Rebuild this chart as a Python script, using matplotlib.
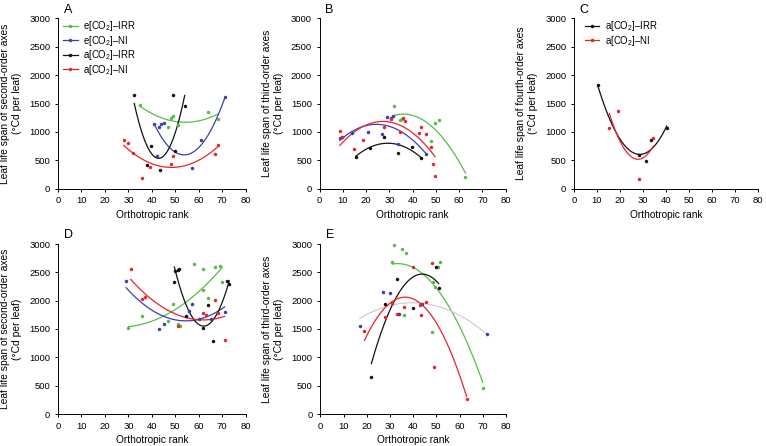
import numpy as np
import matplotlib
matplotlib.use('Agg')
import matplotlib.pyplot as plt
from matplotlib.lines import Line2D

plt.rcParams['font.family'] = ['Liberation Sans', 'DejaVu Sans']
plt.rcParams['mathtext.fontset'] = 'custom'
plt.rcParams['mathtext.rm'] = 'Liberation Sans'
plt.rcParams['mathtext.it'] = 'Liberation Sans:italic'

# ---------------- data ----------------
# Panel A (second-order axes, top)
a_eirr_x = [35, 47, 48, 49, 51, 64, 68]
a_eirr_y = [1470, 1080, 1240, 1285, 1120, 1355, 1230]
a_eni_x = [41, 42, 43, 44, 45, 57, 61, 71]
a_eni_y = [1135, 580, 1085, 1140, 1150, 360, 865, 1615]
a_airr_x = [32.5, 38, 39.5, 43.5, 49, 50, 54]
a_airr_y = [1650, 417, 752, 329, 1650, 664, 1461]
a_ani_x = [28, 30, 32, 36, 39, 48, 49, 67, 68]
a_ani_y = [857, 799, 623, 188, 382, 440, 570, 611, 769]

# Panel B (third-order axes, top)
b_eirr_x = [32, 34.5, 35.5, 47.7, 49.6, 51.5, 62.7]
b_eirr_y = [1456, 1210, 1230, 840, 1150, 1215, 211]
b_eni_x = [8.7, 9.5, 13.8, 20.6, 26.7, 28.8, 30.7, 31.7, 33.8, 45.7]
b_eni_y = [887, 905, 975, 1004, 963, 1257, 1250, 1280, 782, 605]
b_airr_x = [15.6, 21.6, 27.8, 33.8, 39.7, 43.7]
b_airr_y = [564, 711, 916, 623, 739, 535]
b_ani_x = [8.7, 9.7, 14.9, 18.8, 27.7, 30.7, 34.5, 35.7, 36.7, 42.6, 43.6, 45.7, 47.7, 48.6, 49.6]
b_ani_y = [1021, 905, 694, 857, 1081, 1227, 1004, 1250, 1192, 986, 1092, 957, 739, 430, 229]

# Panel C (fourth-order axes)
c_airr_x = [10.3, 28.3, 31.5, 33.4, 40.4]
c_airr_y = [1826, 599, 488, 863, 1074]
c_ani_x = [15.4, 19.3, 28.4, 34.4]
c_ani_y = [1063, 1368, 165, 887]

# Panel D (second-order axes, bottom)
d_eirr_x = [30, 36, 47, 49, 51, 52, 58, 62, 62, 64, 67, 69, 70]
d_eirr_y = [1520, 1730, 1645, 1945, 1590, 1560, 2640, 2560, 2180, 2040, 2590, 2605, 2330]
d_eni_x = [29, 43, 45, 56, 57, 60, 65, 71]
d_eni_y = [2350, 1495, 1585, 1810, 1935, 1670, 1670, 1800]
d_airr_x = [49.6, 50, 51, 51.5, 54.5, 62, 64, 66, 72, 73]
d_airr_y = [2335, 2530, 2550, 2555, 1730, 1520, 1930, 1290, 2340, 2290]
d_ani_x = [31, 36, 37, 51, 62, 63, 67, 68, 71]
d_ani_y = [2557, 2023, 2069, 1552, 1787, 1746, 2011, 1776, 1300]

# Panel E (third-order axes, bottom)
e_eirr_x = [31, 31.8, 35, 37, 36, 48, 48.7, 49.6, 50.9, 51.7, 70]
e_eirr_y = [2688, 2975, 2920, 2850, 1740, 1445, 2330, 2245, 2600, 2688, 453]
e_eni_x = [17, 27, 30, 33.3, 34, 44, 72]
e_eni_y = [1555, 2150, 2138, 1760, 1768, 1938, 1414]
e_airr_x = [22, 28, 33, 40, 50, 51]
e_airr_y = [660, 1938, 2388, 1865, 2593, 2226]
e_ani_x = [19, 28, 31, 33, 36, 40, 43, 43.5, 45.5, 48, 49, 63]
e_ani_y = [1470, 1705, 1955, 1758, 1882, 2587, 1922, 1746, 1981, 2663, 824, 265]

x_ticks = [0, 10, 20, 30, 40, 50, 60, 70, 80]
y_ticks = [0, 500, 1000, 1500, 2000, 2500, 3000]

GREEN = '#58bb48'
BLUE = '#3a3fae'
BLACK = '#111111'
RED = '#e8232b'
GRAY = '#cfcfcf'

labels = {'eirr': 'e[CO$_2$]–IRR', 'eni': 'e[CO$_2$]–NI',
          'airr': 'a[CO$_2$]–IRR', 'ani': 'a[CO$_2$]–NI'}

W, H = 766, 446
fig = plt.figure(figsize=(W / 100, H / 100), dpi=100)


def add_ax(left, right, top, bottom):
    return fig.add_axes([left / W, 1 - bottom / H, (right - left) / W, (bottom - top) / H])


def style(ax, letter, ylabel):
    ax.set_xlim(0, 80)
    ax.set_ylim(0, 3000)
    ax.set_xticks(x_ticks)
    ax.set_yticks(y_ticks)
    for s in ['top', 'right']:
        ax.spines[s].set_visible(False)
    for s in ['left', 'bottom']:
        ax.spines[s].set_linewidth(0.7)
    ax.tick_params(direction='out', length=2.3, width=0.7, labelsize=6.8, pad=3.2)
    ax.set_xlabel('Orthotropic rank', fontsize=7.3, labelpad=3)
    ax.set_ylabel(ylabel, fontsize=7.4, linespacing=1.25)
    wpx = ax.get_position().width * W
    ax.yaxis.set_label_coords(-36 / wpx, 0.5)
    ax.text(0.03, 1.015, letter, transform=ax.transAxes, fontsize=9,
            ha='left', va='bottom')


def series(ax, x, y, color, line_color=None):
    x = np.asarray(x, float)
    y = np.asarray(y, float)
    ax.plot(x, y, 'o', ms=2.5, color=color, mec='none', zorder=3)
    c = np.polyfit(x, y, 2)
    xx = np.linspace(x.min(), x.max(), 200)
    ax.plot(xx, np.polyval(c, xx), '-', lw=0.9,
            color=line_color if line_color else color, zorder=2)


axA = add_ax(58, 245.7, 18.3, 188.7)
axB = add_ax(319.7, 505.7, 18.3, 188.7)
axC = add_ax(574, 757.7, 18.3, 188.7)
axD = add_ax(58, 245.7, 244, 414)
axE = add_ax(320.3, 506, 244, 414)

second = 'Leaf life span of second-order axes\n(°Cd per leaf)'
third = 'Leaf life span of third-order axes\n(°Cd per leaf)'
fourth = 'Leaf life span of fourth-order axes\n(°Cd per leaf)'

style(axA, 'A', second)
style(axB, 'B', third)
style(axC, 'C', fourth)
style(axD, 'D', second)
style(axE, 'E', third)

series(axA, a_eirr_x, a_eirr_y, GREEN)
series(axA, a_eni_x, a_eni_y, BLUE)
series(axA, a_airr_x, a_airr_y, BLACK)
series(axA, a_ani_x, a_ani_y, RED)

series(axB, b_eirr_x, b_eirr_y, GREEN)
series(axB, b_eni_x, b_eni_y, BLUE)
series(axB, b_airr_x, b_airr_y, BLACK)
series(axB, b_ani_x, b_ani_y, RED)

series(axC, c_airr_x, c_airr_y, BLACK)
series(axC, c_ani_x, c_ani_y, RED)

series(axD, d_eirr_x, d_eirr_y, GREEN)
series(axD, d_eni_x, d_eni_y, BLUE)
series(axD, d_airr_x, d_airr_y, BLACK)
series(axD, d_ani_x, d_ani_y, RED)

series(axE, e_eirr_x, e_eirr_y, GREEN)
series(axE, e_eni_x, e_eni_y, BLUE, GRAY)
series(axE, e_airr_x, e_airr_y, BLACK)
series(axE, e_ani_x, e_ani_y, RED)


def handle(color):
    return Line2D([], [], color=color, lw=0.9, marker='o', ms=2.5, mec='none')


leg_kw = dict(loc='upper left', frameon=False, fontsize=6.9, handlelength=1.5,
              handletextpad=0.6, labelspacing=0.05, borderpad=0, borderaxespad=0)
axA.legend([handle(GREEN), handle(BLUE), handle(BLACK), handle(RED)],
           [labels['eirr'], labels['eni'], labels['airr'], labels['ani']],
           bbox_to_anchor=(0.028, 0.995), **leg_kw)
axC.legend([handle(BLACK), handle(RED)],
           [labels['airr'], labels['ani']],
           bbox_to_anchor=(0.06, 0.995), **leg_kw)

fig.savefig('out.png', dpi=100)
